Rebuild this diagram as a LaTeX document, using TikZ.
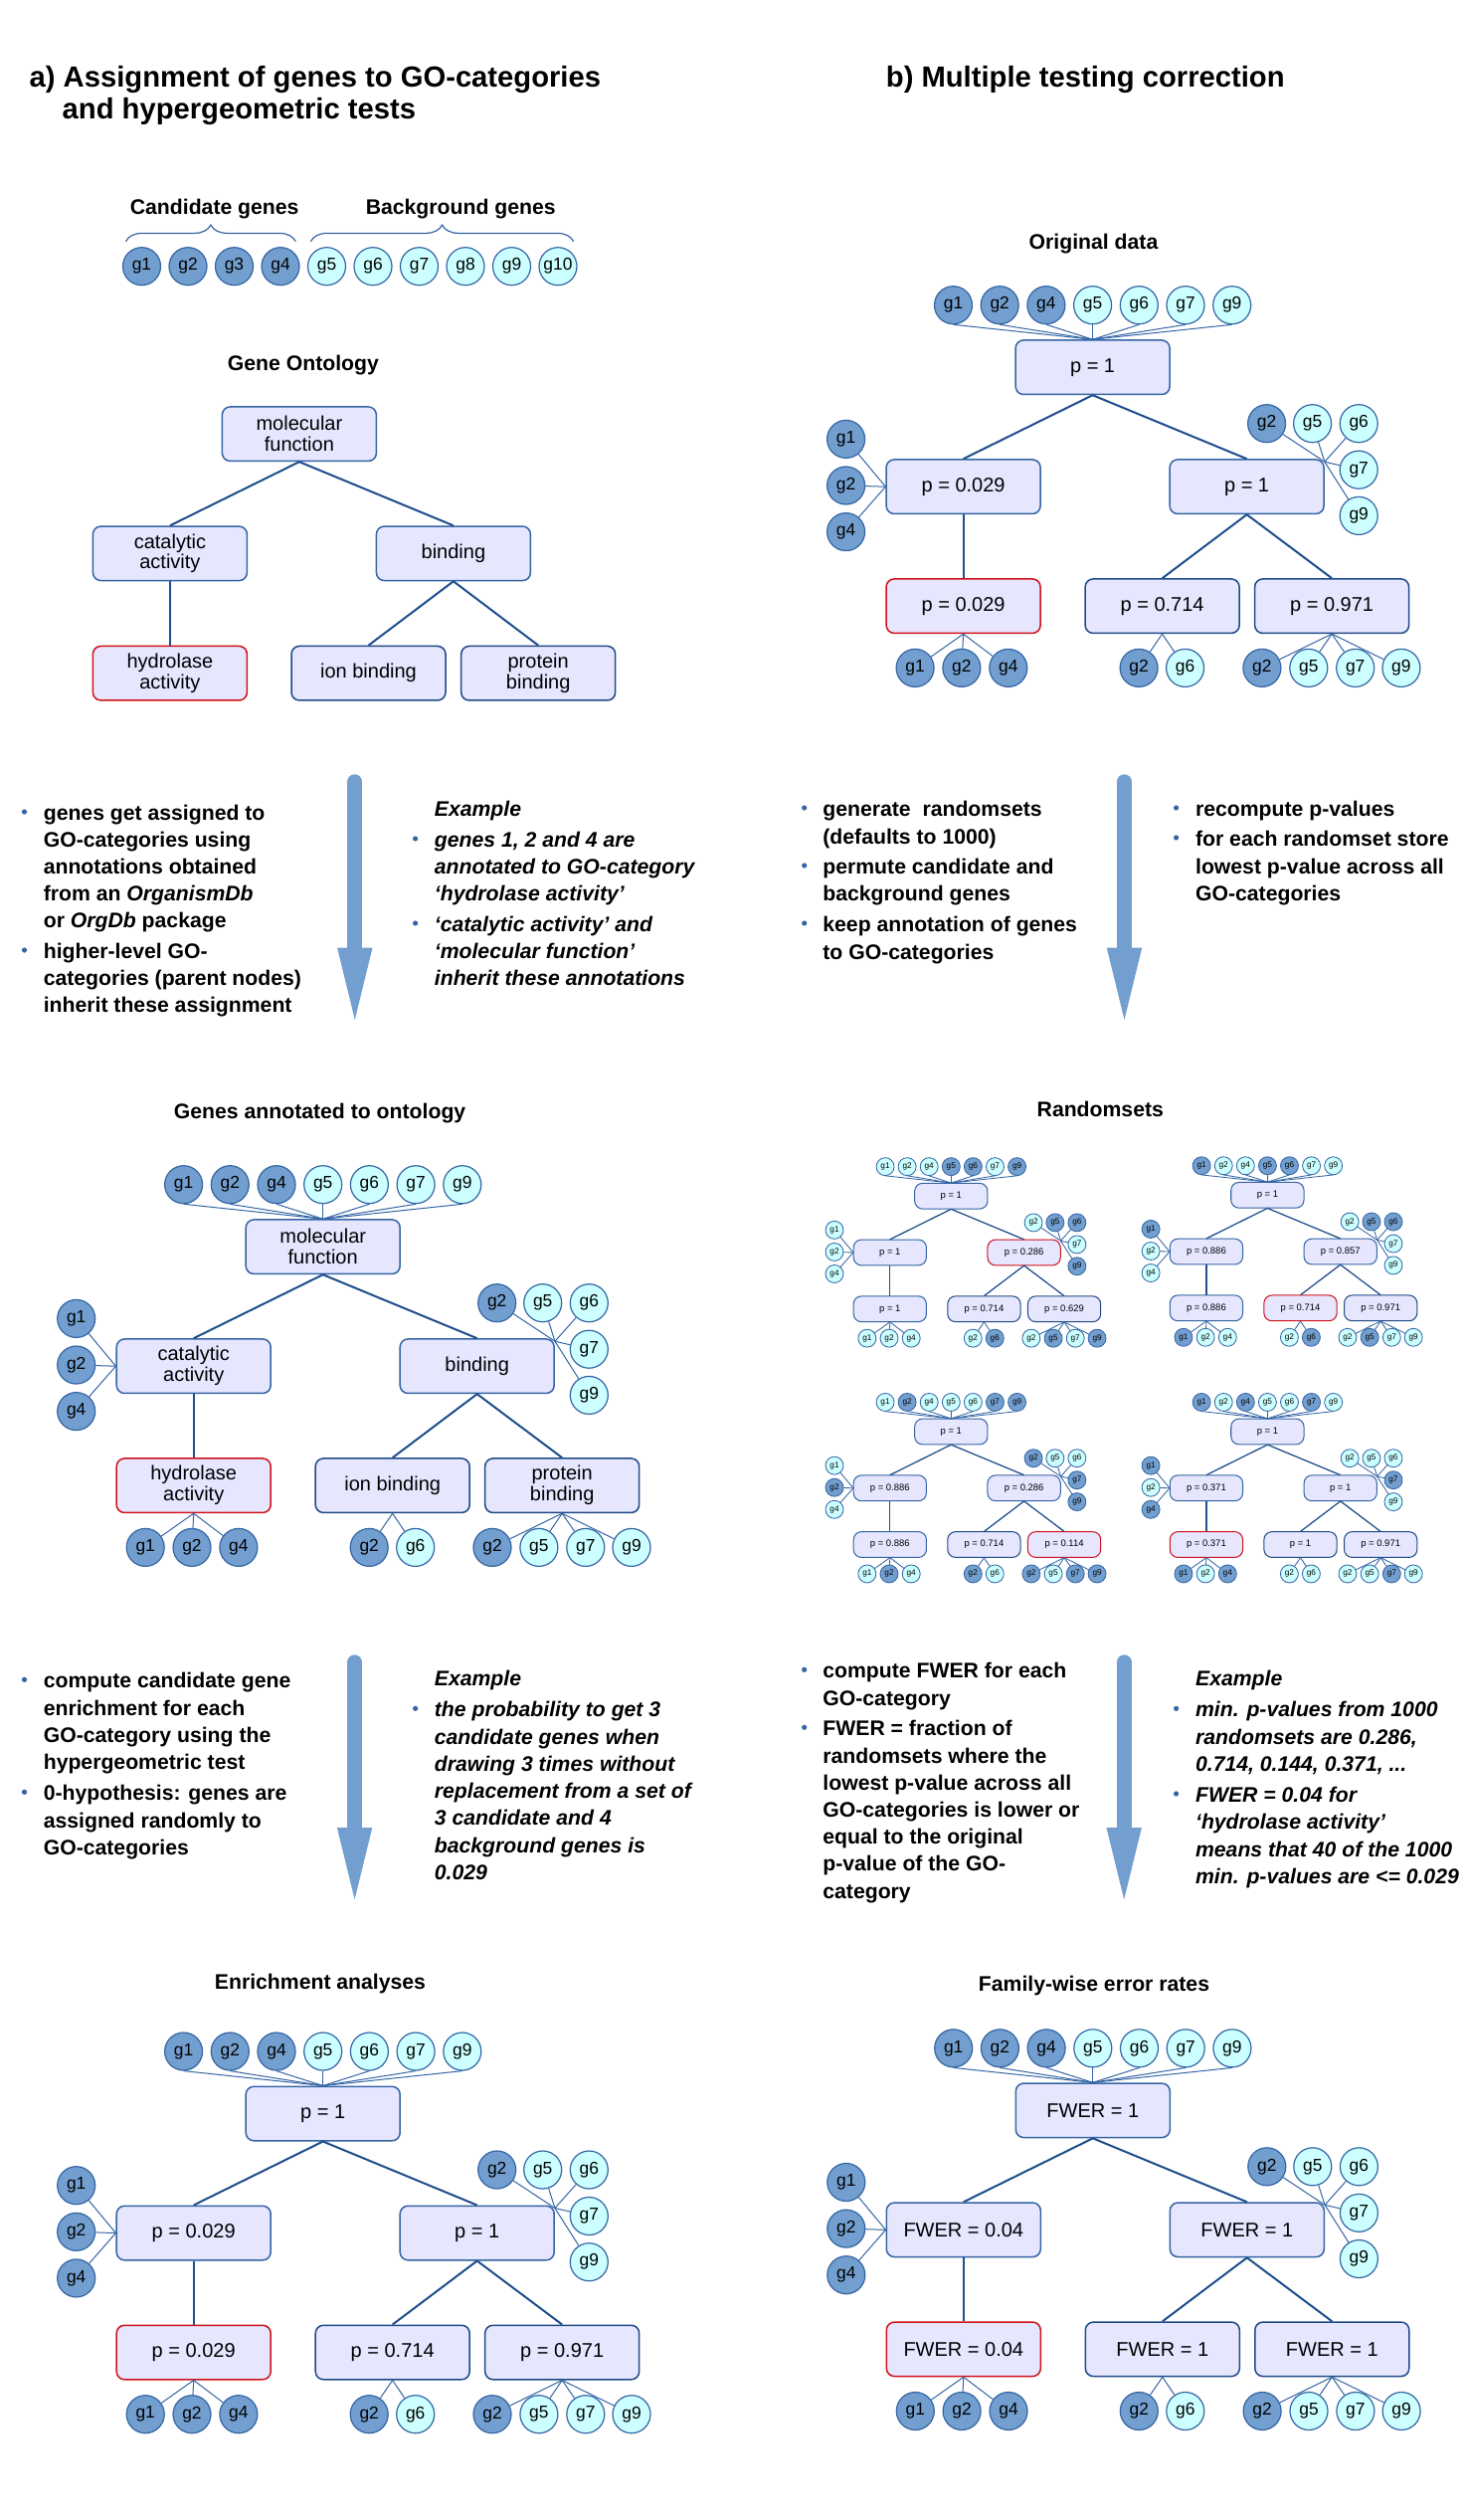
\documentclass[tikz,border=0pt]{standalone}
\usepackage{fontspec}
\setmainfont{Liberation Sans}
\usetikzlibrary{calc,decorations.pathreplacing}
\definecolor{boxfill}{HTML}{E6E6FF}
\definecolor{boxline}{HTML}{3465A4}
\definecolor{boxdark}{HTML}{1F4A86}
\definecolor{edgec}{HTML}{1F4E8C}
\definecolor{gD}{HTML}{729FCF}
\definecolor{gL}{HTML}{CCFFFF}
\definecolor{redb}{HTML}{D0121B}
\definecolor{arrowc}{HTML}{729FCF}
\definecolor{bulc}{HTML}{3465A4}
\def\sc{1}
\tikzset{
 tbox/.style={rectangle, rounded corners=4pt, draw=boxline, fill=boxfill, line width={0.3pt+0.45pt*\sc}, minimum width=77.5pt, minimum height=27.25pt, inner sep=1pt, align=center, font=\fontsize{10}{10.4}\selectfont},
 dk/.style={draw=boxdark},
 redbox/.style={draw=redb},
 gene/.style={circle, draw=boxline, fill=g#1, line width={0.25pt+0.35pt*\sc}, minimum size=19pt, inner sep=0pt, font=\fontsize{8.7}{9}\selectfont},
 tedge/.style={draw=edgec, line width={0.3pt+0.7pt*\sc}},
 glink/.style={draw=boxline, line width={0.35pt+0.15pt*\sc}},
 ttl/.style={inner sep=0pt, anchor=base west, font=\fontsize{14.6}{17}\selectfont\bfseries},
 hd/.style={inner sep=0pt, anchor=base, font=\fontsize{10.6}{13.5}\selectfont\bfseries},
 txt/.style={inner sep=0pt, anchor=base west, font=\fontsize{10.6}{13.5}\selectfont\bfseries},
 itx/.style={inner sep=0pt, anchor=base west, font=\fontsize{10.6}{13.5}\selectfont\bfseries\itshape},
 bullet/.style={circle, fill=bulc, minimum size=2.6pt, inner sep=0pt},
 shaft/.style={draw=arrowc, line width=7.5pt, line cap=round},
 brc/.style={draw=boxline, line width=0.6pt, decorate, decoration={brace, amplitude=8.3pt}},
}
\newcommand{\setlabs}[6]{\def\LT{#1}\def\LML{#2}\def\LMR{#3}\def\LBL{#4}\def\LBM{#5}\def\LBR{#6}}
\newcommand{\gotree}[8]{%
\begin{scope}[shift={#2}, scale=#3, transform shape]
\def\sc{#3}%
\tikzset{sT/.style={}, sML/.style={}, sMR/.style={}, sBL/.style={}, sBM/.style={dk}, sBR/.style={dk}}%
\tikzset{s#4/.style={redbox}}%
\node[tbox,sT] (#1T) at (0,0) {\LT};
\node[tbox,sML] (#1ML) at (-130,120) {\LML};
\node[tbox,sMR] (#1MR) at (155,120) {\LMR};
\node[tbox,sBL] (#1BL) at (-130,240) {\LBL};
\node[tbox,sBM] (#1BM) at (70,240) {\LBM};
\node[tbox,sBR] (#1BR) at (240.5,240) {\LBR};
\draw[tedge] (#1T.south) -- (#1ML.north);
\draw[tedge] (#1T.south) -- (#1MR.north);
\draw[tedge] (#1ML.south) -- (#1BL.north);
\draw[tedge] (#1MR.south) -- (#1BM.north);
\draw[tedge] (#1MR.south) -- (#1BR.north);
\coordinate (#1MRc) at ([yshift=-1.5pt]#1MR.north east);
\foreach \g/\c [count=\i] in {#5} {
  \node[gene=\c] (#1t\g) at ({(\i-4)*46.7},-62.5) {g\g};
  \draw[glink] (#1t\g.south) -- (#1T.north);
}
\foreach \g/\c [count=\i] in {#6} {
  \node[gene=\c] (#1l\g) at (-248,{118.8+(\i-2)*46.6}) {g\g};
  \draw[glink] (#1l\g) -- (#1ML.west);
}
\foreach \g/\c [count=\i] in {#7} {
  \pgfmathsetmacro\px{{175,221,267.6,267.6,267.6}[\i-1]}
  \pgfmathsetmacro\py{{56.5,56.5,56.5,103,149.2}[\i-1]}
  \node[gene=\c] (#1r\g) at (\px,\py) {g\g};
  \draw[glink] (#1r\g) -- (#1MRc);
}
\foreach \g/\c [count=\i] in {#8} {
  \pgfmathsetmacro\px{{-178.5,-131.7,-84.8,46.5,93,170.3,217.2,264.1,310.3}[\i-1]}
  \ifnum\i<4 \def\pbox{BL}\else\ifnum\i<6 \def\pbox{BM}\else\def\pbox{BR}\fi\fi
  \node[gene=\c] (#1b\i) at (\px,302.2) {g\g};
  \draw[glink] (#1\pbox.south) -- (#1b\i);
}
\end{scope}}
\newcommand{\txline}[4]{\node[txt] (#1) at (#2,{#3+7.6}) {#4};}
\newcommand{\itline}[4]{\node[itx] (#1) at (#2,{#3+7.6}) {#4};}
\newcommand{\bpt}[3]{\node[bullet] (#1) at (#2,{#3-1}) {};}
\newcommand{\bigarrow}[4]{%
 \coordinate (#1s) at (#2,{#3+7.5});
 \coordinate (#1h) at (#2,{#4-72.3});
 \coordinate (#1e) at (#2,#4);
 \draw[shaft] (#1s) -- ([yshift=-3pt]#1h);
 \fill[arrowc] ($(#1h)+(-17.7,0)$) -- ($(#1h)+(17.7,0)$) -- (#1e) -- cycle;}

\begin{document}
\begin{tikzpicture}[x=0.5pt,y=-0.5pt]
\useasboundingbox (0,0) rectangle (1474,2533);
\fill[white] (0,0) rectangle (1474,2533);

% ---------- titles ----------
\node[ttl] (ta1) at (29.3,87.3) {a) Assignment of genes to GO-categories};
\node[ttl] (ta2) at (62.3,119.3) {and hypergeometric tests};
\node[ttl] (tb) at (890.5,87.3) {b) Multiple testing correction};

% ---------- section a: genes ----------
\node[hd] (hcand) at (215.7,215.9) {Candidate genes};
\node[hd] (hback) at (463.2,215.9) {Background genes};
\coordinate (cb1) at (126.5,242.7); \coordinate (cb2) at (297.3,242.7);
\coordinate (bb1) at (312.4,242.7); \coordinate (bb2) at (576.7,242.7);
\draw[brc] (cb1) -- (cb2);
\draw[brc] (bb1) -- (bb2);
\foreach \i in {1,...,10}{
  \ifnum\i<5 \def\cc{D}\else\def\cc{L}\fi
  \node[gene=\cc] (ga\i) at ({142.5+(\i-1)*46.5},267.7) {g\i};
}

% ---------- Gene Ontology ----------
\node[hd] (hgo) at (304.9,372.6) {Gene Ontology};
\node[tbox] (mf) at (300.9,436.2) {molecular\\function};
\node[tbox] (ca) at (170.9,556.3) {catalytic\\activity};
\node[tbox] (bi) at (455.9,556.3) {binding};
\node[tbox,redbox] (hy) at (170.9,676.7) {hydrolase\\activity};
\node[tbox,dk] (ib) at (370.5,676.7) {ion binding};
\node[tbox,dk] (pb) at (541.2,676.7) {protein\\binding};
\draw[tedge] (mf.south) -- (ca.north);
\draw[tedge] (mf.south) -- (bi.north);
\draw[tedge] (ca.south) -- (hy.north);
\draw[tedge] (bi.south) -- (ib.north);
\draw[tedge] (bi.south) -- (pb.north);

% ---------- text block a1 ----------
\bigarrow{ar1}{356.8}{778.3}{1025}
\bpt{b1a}{24.5}{817}
\txline{l1a}{43.4}{817}{genes get assigned to}
\txline{l1b}{43.4}{844}{GO-categories using}
\txline{l1c}{43.4}{871}{annotations obtained}
\txline{l1d}{43.4}{898}{from an \textit{OrganismDb}}
\txline{l1e}{43.4}{925}{or \textit{OrgDb} package}
\bpt{b1b}{24.5}{956}
\txline{l1f}{43.4}{956}{higher-level GO-}
\txline{l1g}{43.4}{983}{categories (parent nodes)}
\txline{l1h}{43.4}{1010}{inherit these assignment}

\itline{e1}{436.5}{813.3}{Example}
\bpt{b1c}{417.6}{844}
\itline{r1a}{436.5}{844}{genes 1, 2 and 4 are}
\itline{r1b}{436.5}{871}{annotated to GO-category}
\itline{r1c}{436.5}{898}{‘hydrolase activity’}
\bpt{b1d}{417.6}{929}
\itline{r1d}{436.5}{929}{‘catalytic activity’ and}
\itline{r1e}{436.5}{956}{‘molecular function’}
\itline{r1f}{436.5}{983}{inherit these annotations}

% ---------- Genes annotated ----------
\node[hd] (hann) at (321.6,1124.3) {Genes annotated to ontology};
\setlabs{molecular\\function}{catalytic\\activity}{binding}{hydrolase\\activity}{ion binding}{protein\\binding}
\gotree{g}{(324.7,1253.2)}{1}{BL}{1/D,2/D,4/D,5/L,6/L,7/L,9/L}{1/D,2/D,4/D}{2/D,5/L,6/L,7/L,9/L}{1/D,2/D,4/D,2/D,6/L,2/D,5/L,7/L,9/L}

% ---------- text block a2 ----------
\bigarrow{ar3}{356.6}{1663.3}{1909.3}
\bpt{b3a}{24.5}{1689.3}
\txline{l3a}{43.4}{1689.3}{compute candidate gene}
\txline{l3b}{43.4}{1716.5}{enrichment for each}
\txline{l3c}{43.4}{1743.7}{GO-category using the}
\txline{l3d}{43.4}{1771}{hypergeometric test}
\bpt{b3b}{24.5}{1802.3}
\txline{l3e}{43.4}{1802.3}{0-hypothesis: genes are}
\txline{l3f}{43.4}{1829.5}{assigned randomly to}
\txline{l3g}{43.4}{1856.7}{GO-categories}

\itline{e3}{436.5}{1686.7}{Example}
\bpt{b3c}{417.6}{1718.3}
\itline{r3a}{436.5}{1718.3}{the probability to get 3}
\itline{r3b}{436.5}{1745.5}{candidate genes when}
\itline{r3c}{436.5}{1772.7}{drawing 3 times without}
\itline{r3d}{436.5}{1800}{replacement from a set of}
\itline{r3e}{436.5}{1827.2}{3 candidate and 4}
\itline{r3f}{436.5}{1854.4}{background genes is}
\itline{r3g}{436.5}{1881.6}{0.029}

% ---------- Enrichment ----------
\node[hd] (henr) at (322,1999.9) {Enrichment analyses};
\setlabs{p = 1}{p = 0.029}{p = 1}{p = 0.029}{p = 0.714}{p = 0.971}
\gotree{e}{(324.7,2124.5)}{1}{BL}{1/D,2/D,4/D,5/L,6/L,7/L,9/L}{1/D,2/D,4/D}{2/D,5/L,6/L,7/L,9/L}{1/D,2/D,4/D,2/D,6/L,2/D,5/L,7/L,9/L}

% ---------- Original data ----------
\node[hd] (horig) at (1099.5,250.9) {Original data};
\setlabs{p = 1}{p = 0.029}{p = 1}{p = 0.029}{p = 0.714}{p = 0.971}
\gotree{o}{(1098.6,369.2)}{1}{BL}{1/D,2/D,4/D,5/L,6/L,7/L,9/L}{1/D,2/D,4/D}{2/D,5/L,6/L,7/L,9/L}{1/D,2/D,4/D,2/D,6/L,2/D,5/L,7/L,9/L}

% ---------- text block b1 ----------
\bigarrow{ar2}{1130.5}{778.3}{1025}
\bpt{b2a}{808.7}{813}
\txline{l2a}{827}{813}{generate\ \ randomsets}
\txline{l2b}{827}{840.5}{(defaults to 1000)}
\bpt{b2b}{808.7}{871}
\txline{l2c}{827}{871}{permute candidate and}
\txline{l2d}{827}{898}{background genes}
\bpt{b2c}{808.7}{929}
\txline{l2e}{827}{929}{keep annotation of genes}
\txline{l2f}{827}{957}{to GO-categories}

\bpt{b2d}{1182.6}{813}
\txline{r2a}{1201.7}{813}{recompute p-values}
\bpt{b2e}{1182.6}{843}
\txline{r2b}{1201.7}{843}{for each randomset store}
\txline{r2c}{1201.7}{870.5}{lowest p-value across all}
\txline{r2d}{1201.7}{897.5}{GO-categories}

% ---------- Randomsets ----------
\node[hd] (hrand) at (1106.3,1122.8) {Randomsets};
\setlabs{p = 1}{p = 1}{p = 0.286}{p = 1}{p = 0.714}{p = 0.629}
\gotree{A}{(956.3,1202.2)}{0.473}{MR}{1/L,2/L,4/L,5/D,6/D,7/L,9/D}{1/L,2/L,4/L}{2/L,5/D,6/D,7/L,9/D}{1/L,2/L,4/L,2/L,6/D,2/L,5/D,7/L,9/D}
\setlabs{p = 1}{p = 0.886}{p = 0.857}{p = 0.886}{p = 0.714}{p = 0.971}
\gotree{B}{(1274.4,1201.3)}{0.473}{BM}{1/D,2/L,4/L,5/D,6/D,7/L,9/L}{1/D,2/L,4/L}{2/L,5/D,6/D,7/L,9/L}{1/D,2/L,4/L,2/L,6/D,2/L,5/D,7/L,9/L}
\setlabs{p = 1}{p = 0.886}{p = 0.286}{p = 0.886}{p = 0.714}{p = 0.114}
\gotree{C}{(956.3,1439)}{0.473}{BR}{1/L,2/D,4/L,5/L,6/L,7/D,9/D}{1/L,2/D,4/L}{2/D,5/L,6/L,7/D,9/D}{1/L,2/D,4/L,2/D,6/L,2/D,5/L,7/D,9/D}
\setlabs{p = 1}{p = 0.371}{p = 1}{p = 0.371}{p = 1}{p = 0.971}
\gotree{D}{(1274.4,1439)}{0.473}{BL}{1/D,2/L,4/D,5/L,6/L,7/D,9/L}{1/D,2/L,4/D}{2/L,5/L,6/L,7/D,9/L}{1/D,2/L,4/D,2/L,6/L,2/L,5/L,7/D,9/L}

% ---------- text block b2 ----------
\bigarrow{ar4}{1130.2}{1663.3}{1909.3}
\bpt{b4a}{808.7}{1679.3}
\txline{l4a}{827}{1679.3}{compute FWER for each}
\txline{l4b}{827}{1706.5}{GO-category}
\bpt{b4b}{808.7}{1737.3}
\txline{l4c}{827}{1737.3}{FWER = fraction of}
\txline{l4d}{827}{1764.5}{randomsets where the}
\txline{l4e}{827}{1791.7}{lowest p-value across all}
\txline{l4f}{827}{1818.9}{GO-categories is lower or}
\txline{l4g}{827}{1846.1}{equal to the original}
\txline{l4h}{827}{1873.3}{p-value of the GO-}
\txline{l4i}{827}{1900.5}{category}

\itline{e4}{1201.7}{1686.7}{Example}
\bpt{b4c}{1182.6}{1718.3}
\itline{r4a}{1201.7}{1718.3}{min. p-values from 1000}
\itline{r4b}{1201.7}{1745.5}{randomsets are 0.286,}
\itline{r4c}{1201.7}{1772.7}{0.714, 0.144, 0.371, ...}
\bpt{b4d}{1182.6}{1804}
\itline{r4d}{1201.7}{1804}{FWER = 0.04 for}
\itline{r4e}{1201.7}{1831.2}{‘hydrolase activity’}
\itline{r4f}{1201.7}{1858.4}{means that 40 of the 1000}
\itline{r4g}{1201.7}{1885.6}{min. p-values are <= 0.029}

% ---------- FWER ----------
\node[hd] (hfwer) at (1100,2001.9) {Family-wise error rates};
\setlabs{FWER = 1}{FWER = 0.04}{FWER = 1}{FWER = 0.04}{FWER = 1}{FWER = 1}
\gotree{f}{(1098.8,2121.3)}{1}{BL}{1/D,2/D,4/D,5/L,6/L,7/L,9/L}{1/D,2/D,4/D}{2/D,5/L,6/L,7/L,9/L}{1/D,2/D,4/D,2/D,6/L,2/D,5/L,7/L,9/L}
\end{tikzpicture}
\end{document}
